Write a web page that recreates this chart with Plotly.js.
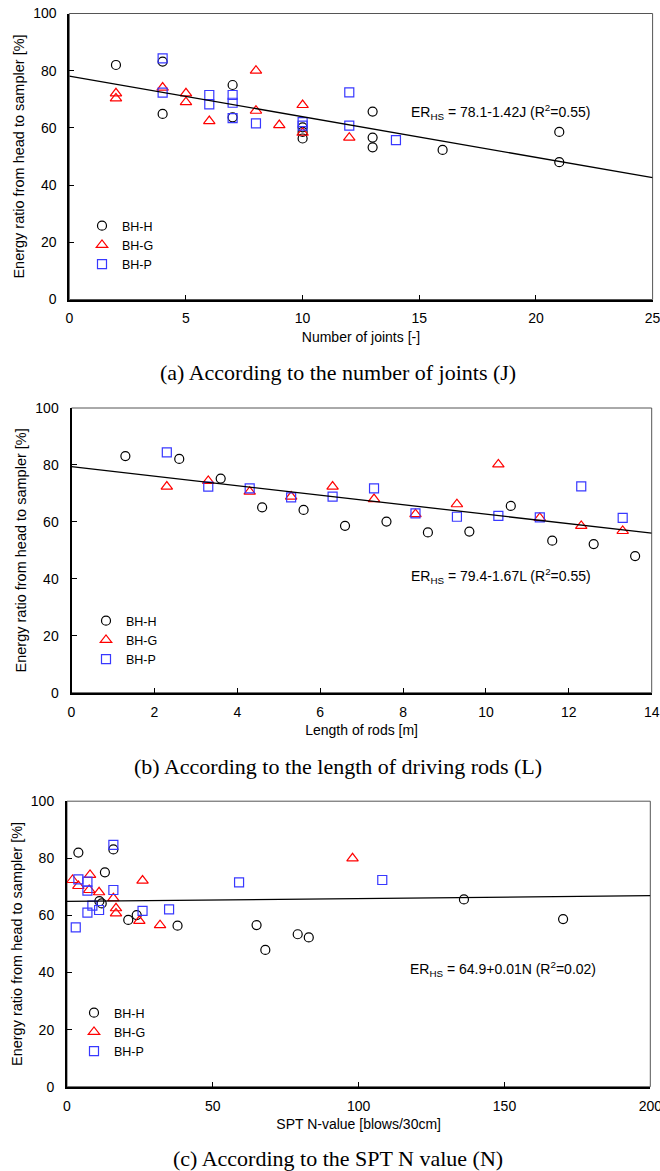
<!DOCTYPE html>
<html>
<head>
<meta charset="utf-8">
<script src="https://cdn.plot.ly/plotly-3.0.1.min.js"></script>
<style>html,body{margin:0;padding:0;background:#fff;}#chart{width:660px;height:1171px;}</style>
</head>
<body>
<div id="chart"></div>
<script>
// ---------- Data ----------
const seriesNames = ["BH-H", "BH-G", "BH-P"];

// (a) Number of joints J
const jH = [2, 4, 4, 7, 7, 10, 10, 10, 13, 13, 13, 16, 21, 21];
const erJH = [82.0, 83.2, 64.9, 75.0, 63.7, 60.2, 58.6, 56.3, 65.7, 56.6, 53.2, 52.3, 58.6, 48.0];
const jG = [2, 2, 4, 5, 5, 6, 8, 8, 9, 10, 10, 12];
const erJG = [72.1, 70.3, 74.1, 72.1, 69.0, 62.4, 80.0, 66.0, 61.0, 68.0, 58.3, 56.6];
const jP = [4, 4, 6, 6, 7, 7, 7, 8, 10, 10, 12, 12, 14];
const erJP = [84.3, 72.3, 71.5, 68.2, 71.5, 68.8, 63.4, 61.6, 62.0, 60.8, 72.4, 60.8, 55.7];

// (b) Length of rods L [m]
const lH = [1.3, 2.6, 3.6, 4.6, 5.6, 6.6, 7.6, 8.6, 9.6, 10.6, 11.6, 12.6, 13.6];
const erLH = [83.1, 82.1, 75.2, 65.1, 64.2, 58.6, 60.1, 56.3, 56.6, 65.6, 53.4, 52.2, 48.0];
const lG = [2.3, 3.3, 4.3, 5.3, 6.3, 7.3, 8.3, 9.3, 10.3, 11.3, 12.3, 13.3];
const erLG = [72.4, 74.4, 70.6, 68.9, 72.4, 68.0, 62.7, 66.2, 80.2, 61.4, 58.6, 56.8];
const lP = [2.3, 3.3, 4.3, 5.3, 6.3, 7.3, 8.3, 9.3, 10.3, 11.3, 12.3, 13.3];
const erLP = [84.4, 72.4, 71.8, 68.6, 68.9, 71.8, 63.0, 61.8, 62.1, 61.6, 72.5, 61.4];

// (c) SPT N-value
const nH = [3.9, 15.9, 13.0, 11.1, 11.9, 21.0, 23.9, 37.9, 65.0, 68.0, 79.1, 82.9, 136.1, 170.1];
const erNH = [82.0, 83.1, 75.1, 65.0, 64.2, 58.4, 60.1, 56.4, 56.6, 47.9, 53.4, 52.3, 65.6, 58.7];
const nG = [1.9, 3.9, 7.9, 7.6, 11.0, 15.9, 16.8, 16.8, 25.9, 24.8, 31.9, 97.9];
const erNG = [72.4, 70.3, 74.2, 68.9, 68.1, 66.0, 62.5, 60.7, 72.2, 58.1, 56.6, 80.0];
const nP = [15.9, 3.9, 7.0, 7.0, 15.9, 8.7, 11.0, 7.0, 25.9, 35.0, 3.0, 59.0, 108.1];
const erNP = [84.7, 72.6, 71.8, 68.7, 68.9, 63.4, 61.9, 61.0, 61.6, 62.1, 55.8, 71.6, 72.4];

// Regression fits (intercept, slope) and x ranges
const fitIntercepts = [78.1, 79.4, 64.9];
const fitSlopes = [-1.42, -1.67, 0.01];
const xRanges = [[0, 25], [0, 14], [0, 200]];
const xTickSteps = [5, 2, 50];

const xTitles = ["Number of joints [-]", "Length of rods [m]", "SPT N-value [blows/30cm]"];
const yTitle = "Energy ratio from head to sampler [%]";
const captions = ["(a) According to the number of joints (J)",
                  "(b) According to the length of driving rods (L)",
                  "(c) According to the SPT N value (N)"];
const equations = ["ER<sub>HS</sub> = 78.1-1.42J (R<sup>2</sup>=0.55)",
                   "ER<sub>HS</sub> = 79.4-1.67L (R<sup>2</sup>=0.55)",
                   "ER<sub>HS</sub> = 64.9+0.01N (R<sup>2</sup>=0.02)"];
const eqPos = [[14.55, 65.5], [8.15, 41.1], [117.0, 41.2]];

// ---------- Styling ----------
const SANS = "Liberation Sans, Arial, sans-serif";
const SERIF = "Liberation Serif, Times New Roman, serif";
const W = 660, H = 1171;
const symbols = ["circle-open", "triangle-up-open", "square-open"];
const colors = ["#000000", "#ff0000", "#3838ff"];

// pixel frames of each panel [left, right, top, bottom]
const frames = [[69.3, 652.6, 13.5, 299.5], [71.5, 651.7, 408.0, 692.7], [67.0, 650.3, 801.2, 1086.7]];
const legendPos = [[82, 211], [86, 606], [74, 998]];
const captionY = [372, 766, 1158];

const panelData = [
  [[jH, erJH], [jG, erJG], [jP, erJP]],
  [[lH, erLH], [lG, erLG], [lP, erLP]],
  [[nH, erNH], [nG, erNG], [nP, erNP]]
];

const traces = [];
const layout = {
  width: W, height: H,
  margin: {l: 0, r: 0, t: 0, b: 0},
  paper_bgcolor: "#ffffff", plot_bgcolor: "#ffffff",
  font: {family: SANS, color: "#000000", size: 14},
  showlegend: true,
  annotations: [], shapes: []
};

for (let p = 0; p < 3; p++) {
  const sfx = p === 0 ? "" : String(p + 1);
  const xa = "x" + sfx, ya = "y" + sfx;
  const legName = "legend" + sfx;
  const fr = frames[p];
  for (let s = 0; s < 3; s++) {
    traces.push({
      type: "scatter", mode: "markers",
      x: panelData[p][s][0], y: panelData[p][s][1],
      name: seriesNames[s], xaxis: xa, yaxis: ya, legend: legName,
      marker: {symbol: symbols[s], size: s === 1 ? 10 : 9, color: colors[s], line: {width: 1.2, color: colors[s]}},
      cliponaxis: false
    });
  }
  const xr = xRanges[p];
  traces.push({
    type: "scatter", mode: "lines",
    x: xr, y: xr.map(v => fitIntercepts[p] + fitSlopes[p] * v),
    xaxis: xa, yaxis: ya, showlegend: false, hoverinfo: "skip",
    line: {color: "#000000", width: 1.3}
  });

  layout["xaxis" + sfx] = {
    domain: [fr[0] / W, fr[1] / W], anchor: ya,
    range: xr, dtick: xTickSteps[p], tick0: 0,
    showgrid: false, zeroline: false,
    showline: true, linecolor: "#000000", linewidth: 2,
    ticks: "inside", ticklen: 5, tickwidth: 1, tickcolor: "#000000",
    ticklabelstandoff: 5, ticklabeloverflow: "allow",
    tickfont: {family: SANS, size: 14, color: "#000000"},
    title: {text: xTitles[p], font: {family: SANS, size: 14, color: "#000000"}, standoff: 7},
    automargin: false, fixedrange: true
  };
  layout["yaxis" + sfx] = {
    domain: [1 - fr[3] / H, 1 - fr[2] / H], anchor: xa,
    range: [0, 100], dtick: 20, tick0: 0,
    showgrid: false, zeroline: false,
    showline: true, linecolor: "#000000", linewidth: 2,
    ticks: "inside", ticklen: 5, tickwidth: 1, tickcolor: "#000000",
    ticklabelstandoff: 8, ticklabeloverflow: "allow",
    tickfont: {family: SANS, size: 14, color: "#000000"},
    title: {text: yTitle, font: {family: SANS, size: 14.5, color: "#000000"}, standoff: 5},
    automargin: false, fixedrange: true
  };
  // grey frame (top & right)
  layout.shapes.push({
    type: "rect", xref: xa + " domain", yref: ya + " domain",
    x0: 0, x1: 1, y0: 0, y1: 1, layer: "below",
    line: {color: "#555555", width: 1}
  });
  layout[legName] = {
    x: legendPos[p][0] / W, y: 1 - legendPos[p][1] / H,
    xanchor: "left", yanchor: "top",
    bgcolor: "rgba(0,0,0,0)", borderwidth: 0,
    font: {family: SANS, size: 12.5, color: "#000000"},
    itemwidth: 30, tracegroupgap: 0
  };
  layout.annotations.push({
    xref: xa, yref: ya, x: eqPos[p][0], y: eqPos[p][1],
    xanchor: "left", yanchor: "middle", showarrow: false,
    text: equations[p], font: {family: SANS, size: 14, color: "#000000"}
  });
  layout.annotations.push({
    xref: "paper", yref: "paper", x: 0.512, y: 1 - captionY[p] / H,
    xanchor: "center", yanchor: "middle", showarrow: false,
    text: captions[p], font: {family: SERIF, size: 22, color: "#000000"}
  });
}

Plotly.newPlot("chart", traces, layout, {staticPlot: true, displayModeBar: false});
</script>
</body>
</html>
